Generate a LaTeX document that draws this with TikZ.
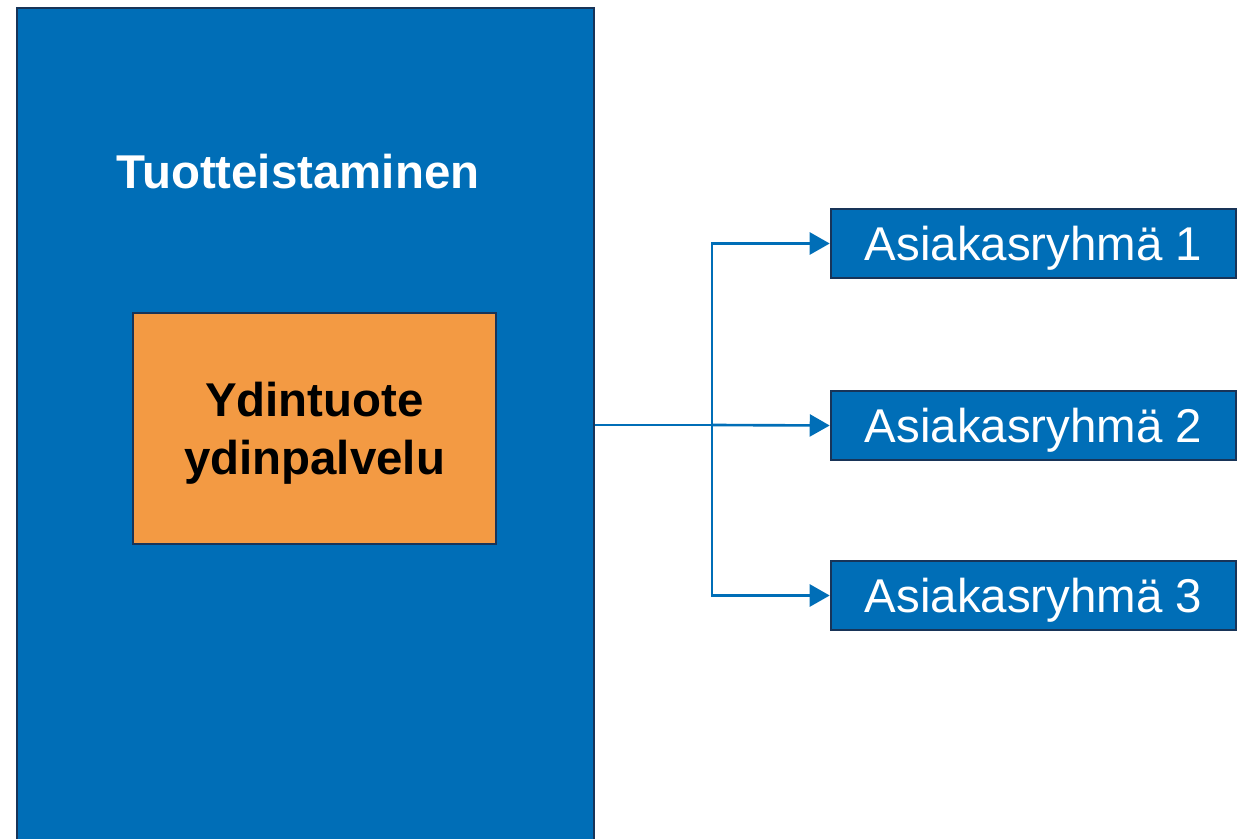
\documentclass[tikz,border=0pt]{standalone}
\usepackage{fontspec}
\setmainfont{Liberation Sans}
\usetikzlibrary{arrows.meta}
\definecolor{tblue}{RGB}{0,110,183}
\definecolor{tnavy}{RGB}{24,52,88}
\definecolor{torange}{RGB}{243,154,67}
\tikzset{
  bigbox/.style={draw=tnavy,line width=1.5pt,fill=tblue,inner sep=0pt},
  corebox/.style={draw=tnavy,line width=1.5pt,fill=torange,inner sep=0pt,
    minimum width=7.26cm,minimum height=4.62cm,align=center,text depth=0pt,
    font=\fontsize{27pt}{33pt}\selectfont\bfseries},
  groupbox/.style={draw=tnavy,line width=1.5pt,fill=tblue,text=white,inner sep=0pt,
    minimum width=8.1cm,minimum height=1.38cm,text depth=0pt,
    font=\fontsize{27pt}{32pt}\selectfont},
  link/.style={draw=tblue,line width=1.5pt},
  linkarrow/.style={link,-{Triangle[length=0.4cm,width=0.44cm]}}
}
\begin{document}
\begin{tikzpicture}[x=0.02cm,y=-0.02cm]
\useasboundingbox (0,0) rectangle (1245,839);
% left block
\node[bigbox,minimum width=11.54cm,minimum height=16.84cm] (tuote) at (305.5,429) {};
\node[text=white,font=\fontsize{27pt}{32pt}\selectfont\bfseries] (otsikko) at (298,172) {Tuotteistaminen};
\node[corebox] (ydin) at (314.5,428.5) {Ydintuote\\ydinpalvelu};
% customer groups
\node[groupbox] (ryhma1) at (1033.5,243.5) {Asiakasryhmä 1};
\node[groupbox] (ryhma2) at (1033.5,425.5) {Asiakasryhmä 2};
\node[groupbox] (ryhma3) at (1033.5,595.5) {Asiakasryhmä 3};
% connectors
\coordinate (haara) at (712,425);
\draw[link] (tuote.east |- haara) -- (haara);
\draw[linkarrow] (haara) -- (ryhma2.west);
\draw[linkarrow] (haara) |- (ryhma1.west);
\draw[linkarrow] (haara) |- (ryhma3.west);
\end{tikzpicture}
\end{document}
